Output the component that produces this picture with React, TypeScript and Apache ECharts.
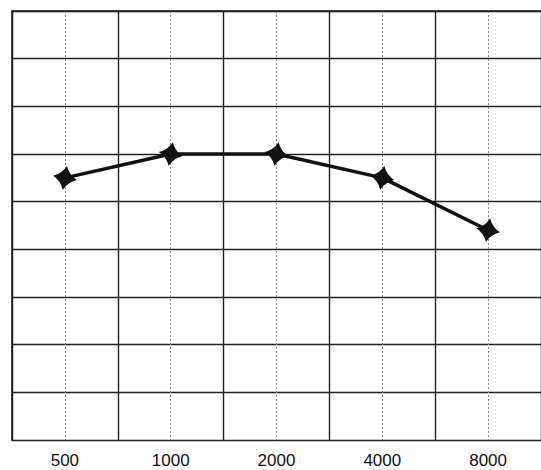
import React, { useEffect, useRef } from "react";
import * as echarts from "echarts";

const frequencies = ["500", "1000", "2000", "4000", "8000"];
const levels = [35, 30, 30, 35, 46];
const yMin = 0;
const yMax = 90;
const yStep = 10;

const STAR = "path://M0,-12 Q3.6,-3.6 12,0 Q3.6,3.6 0,12 Q-3.6,3.6 -12,0 Q-3.6,-3.6 0,-12 Z";

export default function App() {
  const ref = useRef<HTMLDivElement>(null);
  useEffect(() => {
    if (!ref.current) return;
    const chart = echarts.init(ref.current, null, { renderer: "svg" });
    chart.setOption({
      animation: false,
      backgroundColor: "#ffffff",
      grid: { left: 12, top: 11, width: 532, height: 429, containLabel: false },
      xAxis: [
        {
          type: "category",
          data: frequencies,
          boundaryGap: true,
          position: "bottom",
          axisLine: { show: true, lineStyle: { color: "#1a1a1a", width: 1.6 } },
          axisTick: { show: false },
          splitLine: { show: false },
          axisLabel: {
            color: "#111",
            fontSize: 17,
            fontFamily: "Liberation Sans, Arial, sans-serif",
            margin: 12,
          },
        },
        {
          type: "value",
          min: 0,
          max: 5,
          interval: 1,
          position: "bottom",
          axisLine: { show: false },
          axisTick: { show: false },
          axisLabel: { show: false },
          splitLine: { show: true, lineStyle: { color: "#222", width: 1.4 } },
          minorTick: { show: false, splitNumber: 2 },
          minorSplitLine: {
            show: true,
            lineStyle: { color: "#8a8a8a", width: 1, type: [2, 2] },
          },
        },
      ],
      yAxis: {
        type: "value",
        inverse: true,
        min: yMin,
        max: yMax,
        interval: yStep,
        axisLine: { show: true, lineStyle: { color: "#1a1a1a", width: 1.6 } },
        axisTick: { show: false },
        axisLabel: { show: false },
        splitLine: { show: true, lineStyle: { color: "#222", width: 1.4 } },
      },
      series: [
        {
          type: "line",
          xAxisIndex: 0,
          yAxisIndex: 0,
          data: levels,
          symbol: STAR,
          symbolSize: 24,
          symbolRotate: -10,
          lineStyle: { color: "#111", width: 3.5 },
          itemStyle: { color: "#111" },
        },
      ],
    });
    return () => chart.dispose();
  }, []);
  return (
    <div
      ref={ref}
      style={{ position: "fixed", left: 0, top: 0, width: 541, height: 470, background: "#fff" }}
    />
  );
}
